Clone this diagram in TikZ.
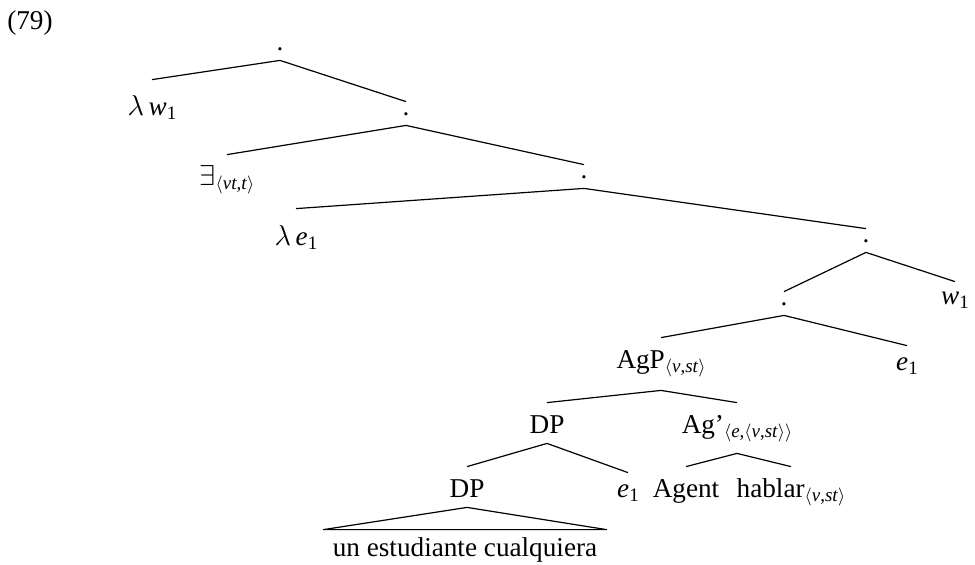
\documentclass[tikz,border=0pt]{standalone}
\usepackage{fontspec}
\setmainfont{Liberation Serif}
\newcommand\tsub[1]{\raisebox{-2.3pt}{\fontsize{9.5pt}{10pt}\selectfont #1}}
\newcommand\typ[1]{\tsub{$\langle$#1$\rangle$}}
\begin{document}
\begin{tikzpicture}[x=0.5pt,y=-0.5pt,
  font=\fontsize{13.6pt}{16pt}\selectfont,
  tnode/.style={anchor=base, inner xsep=0pt, inner ysep=5pt, text depth=0pt},
  dotn/.style={tnode, text height=1.5pt},
  capn/.style={tnode, text height=10pt},
  lown/.style={tnode, text height=7pt},
  branch/.style={line width=0.6pt}]
\useasboundingbox (0,0) rectangle (975,564);

% example number
\node[anchor=base, inner sep=0pt] (num) at (30,29) {(79)};

% nodes of the tree
\node[dotn] (root) at (280,50) {.};
\node[tnode, text height=12.5pt] (lw) at (152,115) {$\lambda$\,\textit{w}\tsub{1}};
\node[dotn] (n2) at (406,115) {.};
\node[capn] (ex) at (227,185) {$\exists$\typ{\textit{vt},\textit{t}}};
\node[dotn] (n3) at (584,178) {.};
\node[tnode, text height=13pt] (le) at (296,245) {$\lambda$\,\textit{e}\tsub{1}};
\node[dotn] (n4) at (866,242) {.};
\node[tnode, text height=6pt] (w1) at (955,304) {\textit{w}\tsub{1}};
\node[dotn] (n5) at (784,305) {.};
\node[capn, text depth=6pt] (agp) at (661,368) {AgP\typ{\textit{v},\textit{st}}};
\node[lown] (e1a) at (907,370) {\textit{e}\tsub{1}};
\node[capn] (dp1) at (547,433) {DP};
\node[capn, text depth=5pt] (agbar) at (737,433) {Ag'\typ{\textit{e},$\langle$\textit{v},\textit{st}$\rangle$}};
\node[capn] (dp2) at (467,497) {DP};
\node[lown] (e1b) at (628,497) {\textit{e}\tsub{1}};
\node[capn] (agent) at (686,497) {Agent};
\node[capn] (hablar) at (791,497) {hablar\typ{\textit{v},\textit{st}}};
\node[anchor=base, inner xsep=4.5pt, inner ysep=4.5pt, text height=8.5pt, text depth=0pt]
  (leaf) at (465,556) {un estudiante cualquiera};

% branches
\draw[branch] (root.south) -- (lw.north);
\draw[branch] (root.south) -- (n2.north);
\draw[branch] (n2.south) -- (ex.north);
\draw[branch] (n2.south) -- (n3.north);
\draw[branch] (n3.south) -- (le.north);
\draw[branch] (n3.south) -- (n4.north);
\draw[branch] (n4.south) -- (n5.north);
\draw[branch] (n4.south) -- (w1.north);
\draw[branch] (n5.south) -- (agp.north);
\draw[branch] (n5.south) -- (e1a.north);
\draw[branch] (agp.south) -- (dp1.north);
\draw[branch] (agp.south) -- (agbar.north);
\draw[branch] (dp1.south) -- (dp2.north);
\draw[branch] (dp1.south) -- (e1b.north);
\draw[branch] (agbar.south) -- (agent.north);
\draw[branch] (agbar.south) -- (hablar.north);
% roof over the unanalysed phrase
\draw[branch, line join=round] (dp2.south) -- (leaf.north west) -- (leaf.north east) -- cycle;
\end{tikzpicture}
\end{document}
